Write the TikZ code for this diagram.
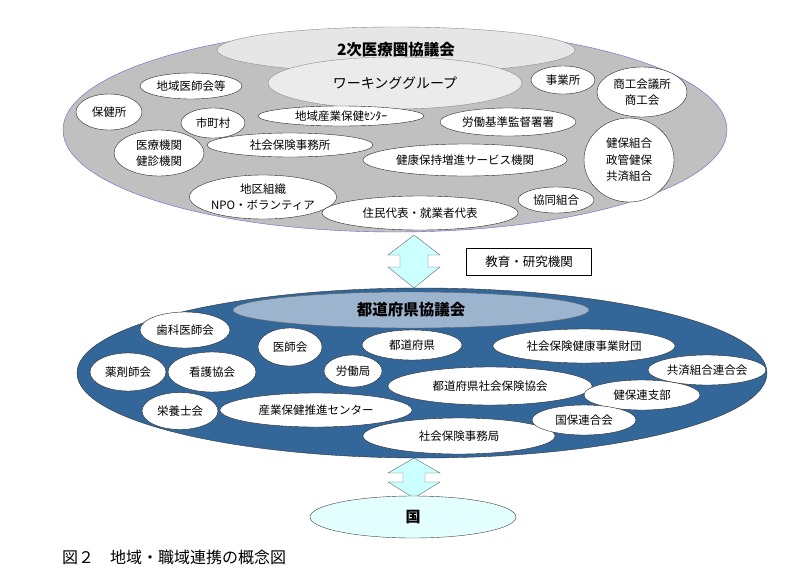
\documentclass[tikz,border=0pt]{standalone}
\usepackage{fontspec}
\setmainfont{Noto Sans CJK JP}
\usetikzlibrary{shapes.geometric}
\definecolor{outergray}{HTML}{C0C0C0}
\definecolor{lightgray}{HTML}{E6E6E6}
\definecolor{prefblue}{HTML}{336699}
\definecolor{paleblue}{HTML}{9DB4CE}
\definecolor{arrowcyan}{HTML}{CCFFFF}
\definecolor{nationcyan}{HTML}{E3FFFF}
\definecolor{rimblue}{HTML}{6666CC}
\begin{document}
\begin{tikzpicture}[x=1pt,y=-1pt,
   org/.style={ellipse,draw=black!85,fill=white,inner sep=0pt,align=center,
     font=\fontsize{11.5}{16.5}\selectfont},
   council/.style={ellipse,inner sep=0pt,align=center},
   blockarrow/.style={draw=black!60,fill=arrowcyan}]
   \useasboundingbox (0,0) rectangle (790,576);
   \fill[white] (0,0) rectangle (790,576);
   \draw[blockarrow] (414,235) -- (440,255) -- (428,255) -- (428,267) -- (440,267) -- (414,288)
      -- (388,267) -- (400,267) -- (400,255) -- (388,255) -- cycle;
   \draw[blockarrow] (414,458) -- (440,473) -- (425,473) -- (425,482) -- (440,482) -- (414,498)
      -- (388,482) -- (403,482) -- (403,473) -- (388,473) -- cycle;
   \node[council,draw=rimblue,fill=outergray,minimum width=664,minimum height=204] (region) at (395,130) {};
   \node[council,draw=black!45,fill=lightgray,minimum width=358,minimum height=46,
      font=\fontsize{15.5}{17}\bfseries] (niji) at (396,50) {2次医療圏協議会};
   \node[council,draw=black!45,fill=lightgray!80,minimum width=254,minimum height=52,
      font=\fontsize{14}{16}\selectfont] (working) at (395,83) {ワーキンググループ};
   \node[org,minimum width=102,minimum height=26] (ishikai) at (191,86) {地域医師会等};
   \node[org,minimum width=66,minimum height=36] (hokenjo) at (109,112) {保健所};
   \node[org,minimum width=64,minimum height=30] (shichoson) at (213,123) {市町村};
   \node[org,minimum width=90,minimum height=46] (iryo) at (159,153) {医療機関\\健診機関};
   \node[org,minimum width=166,minimum height=20,font=\fontsize{11.5}{13}\selectfont] (sangyo) at (341,116) {地域産業保健ｾﾝﾀｰ};
   \node[org,minimum width=166,minimum height=24] (shaho) at (290,145) {社会保険事務所};
   \node[org,minimum width=204,minimum height=32] (kenko) at (465,160) {健康保持増進サービス機関};
   \node[org,minimum width=138,minimum height=44] (chiku) at (263,197) {地区組織\\NPO・ボランティア};
   \node[org,minimum width=196,minimum height=34] (jumin) at (420,213) {住民代表・就業者代表};
   \node[org,minimum width=136,minimum height=28] (kantoku) at (508,122) {労働基準監督署署};
   \node[org,minimum width=64,minimum height=28] (jigyo) at (563,80) {事業所};
   \node[org,minimum width=90,minimum height=50] (shoko) at (642,92) {商工会議所\\商工会};
   \node[org,minimum width=90,minimum height=84] (kenpo) at (629,160) {健保組合\\政管健保\\共済組合};
   \node[org,minimum width=76,minimum height=26] (kyodo) at (556,200) {協同組合};
   \node[draw=black,fill=white,minimum width=125,minimum height=27,
      font=\fontsize{12.5}{15}\selectfont] (kyoiku) at (529,262) {教育・研究機関};
   \node[council,draw=black!80,fill=prefblue,minimum width=690,minimum height=170] (pref) at (422,373) {};
   \node[council,draw=black!60,fill=paleblue,minimum width=356,minimum height=36,
      font=\fontsize{15.5}{17}\bfseries] (prefcouncil) at (411,310) {都道府県協議会};
   \node[org,minimum width=90,minimum height=36] (shika) at (185,330) {歯科医師会};
   \node[org,minimum width=64,minimum height=38] (ishi) at (290,347) {医師会};
   \node[org,minimum width=100,minimum height=30] (todofuken) at (412,345) {都道府県};
   \node[org,minimum width=182,minimum height=34] (zaidan) at (584,346) {社会保険健康事業財団};
   \node[org,minimum width=76,minimum height=38] (yakuzai) at (128,372) {薬剤師会};
   \node[org,minimum width=88,minimum height=40] (kango) at (212,372) {看護協会};
   \node[org,minimum width=58,minimum height=32] (rodokyoku) at (353,371) {労働局};
   \node[org,minimum width=204,minimum height=38] (kyokai) at (490,386) {都道府県社会保険協会};
   \node[org,minimum width=118,minimum height=30] (kyosai) at (707,370) {共済組合連合会};
   \node[org,minimum width=116,minimum height=30] (kenporen) at (642,395) {健保連支部};
   \node[org,minimum width=76,minimum height=37] (eiyo) at (180,411) {栄養士会};
   \node[org,minimum width=192,minimum height=34] (suishin) at (316,410) {産業保健推進センター};
   \node[org,minimum width=192,minimum height=36] (jimukyoku) at (459,436) {社会保険事務局};
   \node[org,minimum width=104,minimum height=30] (kokuho) at (584,420) {国保連合会};
   \node[council,draw=black!75,fill=nationcyan,minimum width=206,minimum height=42,
      font=\fontsize{15}{17}\bfseries] (kuni) at (413,517) {国};
   \node[anchor=west,inner sep=0pt,font=\fontsize{16}{18}\selectfont] (caption) at (62,557) {図２\quad 地域・職域連携の概念図};
\end{tikzpicture}
\end{document}
